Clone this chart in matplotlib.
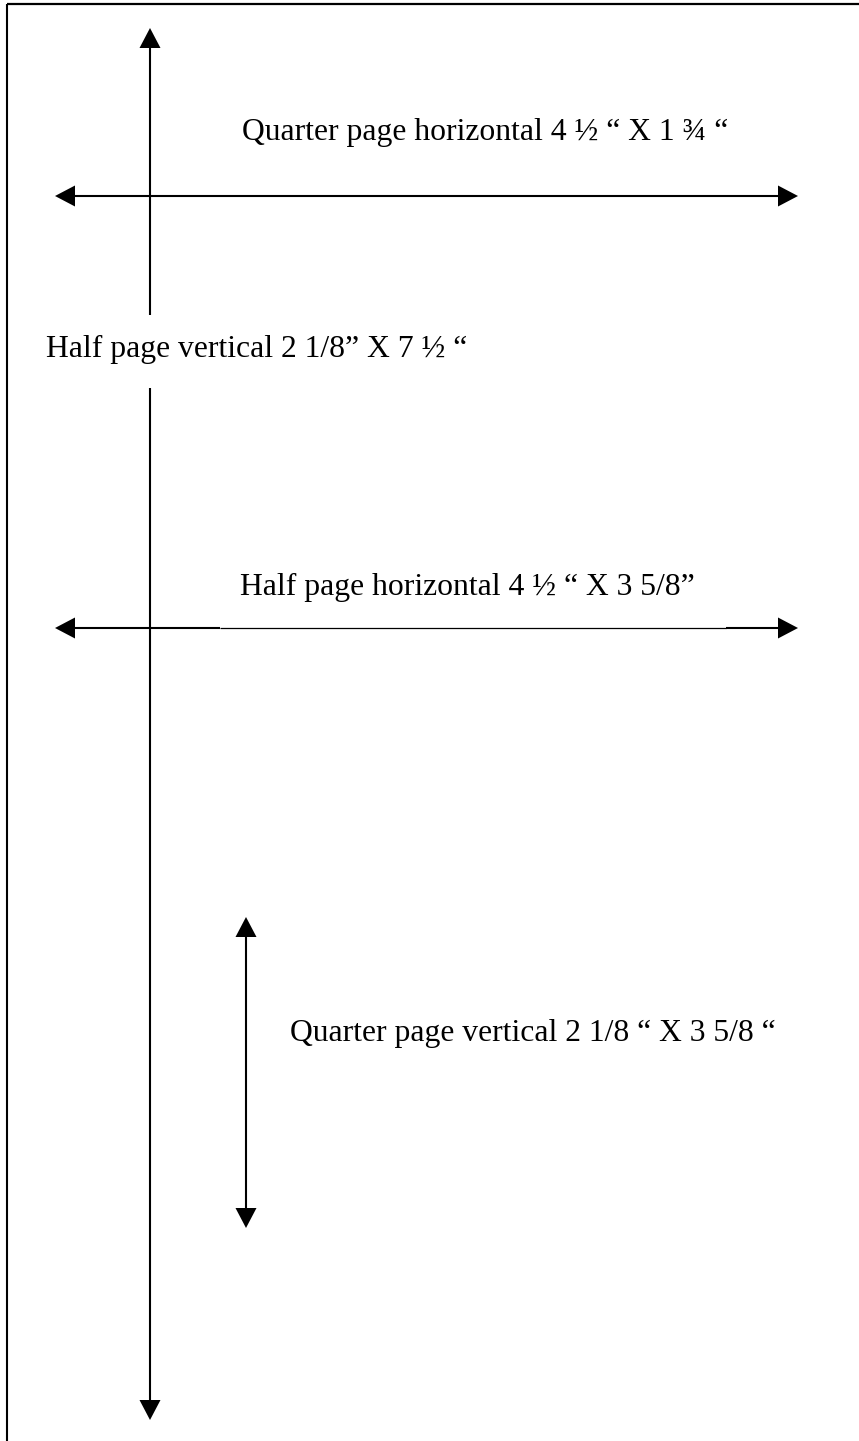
import matplotlib.pyplot as plt
import numpy as np

W, H = 859, 1441

# arrows: (x0, y0, x1, y1), page pixel coordinates, heads at both ends
arrows = [
    (150, 28, 150, 1420),   # half page vertical
    (55, 196, 798, 196),    # quarter page horizontal
    (55, 628, 798, 628),    # half page horizontal
    (246, 917, 246, 1228),  # quarter page vertical
]
# gaps cut out of the arrow shafts (arrow index, start, end)
gaps = [(0, 315, 388)]
# thinner middle part of the half page horizontal shaft
thin_parts = [(2, 220, 726)]

labels = [
    "Quarter page horizontal 4 \u00bd \u201c X 1 \u00be \u201c",
    "Half page vertical 2 1/8\u201d X 7 \u00bd \u201c",
    "Half page horizontal 4 \u00bd \u201c X 3 5/8\u201d",
    "Quarter page vertical 2 1/8 \u201c X 3 5/8 \u201c",
]
label_x = [242, 46, 240, 290]
label_y = [140, 357, 595, 1041]

head_len = 20
head_half = 10.5

fig = plt.figure(figsize=(W / 100, H / 100), dpi=100)
ax = fig.add_axes([0, 0, 1, 1])
ax.set_xlim(0, W)
ax.set_ylim(H, 0)
ax.axis('off')

# page border (top and left only)
ax.plot([6.5, W], [3.5, 3.5], color='black', lw=1.6, solid_capstyle='butt')
ax.plot([6.5, 6.5], [3.5, H], color='black', lw=1.5, solid_capstyle='butt')

for i, (x0, y0, x1, y1) in enumerate(arrows):
    p0 = np.array([x0, y0], float)
    p1 = np.array([x1, y1], float)
    d = (p1 - p0) / np.linalg.norm(p1 - p0)
    n = np.array([-d[1], d[0]])
    a = p0 + d * head_len
    b = p1 - d * head_len
    vertical = x0 == x1
    # split shaft into pieces
    cuts = [(s, e, 'gap') for j, s, e in gaps if j == i] + \
           [(s, e, 'thin') for j, s, e in thin_parts if j == i]
    start = a[1] if vertical else a[0]
    stop = b[1] if vertical else b[0]
    pieces = []
    pos = start
    for s, e, kind in sorted(cuts):
        pieces.append((pos, s, 1.5))
        if kind == 'thin':
            pieces.append((s, e, 0.9))
        pos = e
    pieces.append((pos, stop, 1.5))
    for s, e, lw in pieces:
        if vertical:
            ax.plot([x0, x0], [s, e], color='black', lw=lw, solid_capstyle='butt')
        else:
            ax.plot([s, e], [y0, y0], color='black', lw=lw, solid_capstyle='butt')
    for tip, base in ((p0, a), (p1, b)):
        tri = np.array([tip, base + n * head_half, base - n * head_half])
        ax.fill(tri[:, 0], tri[:, 1], color='black', lw=0)

for txt, x, y in zip(labels, label_x, label_y):
    ax.text(x, y, txt, family=['Liberation Serif', 'DejaVu Serif'], fontsize=22.8,
            ha='left', va='baseline', color='black')

fig.savefig("out.png", dpi=100, facecolor='white')
